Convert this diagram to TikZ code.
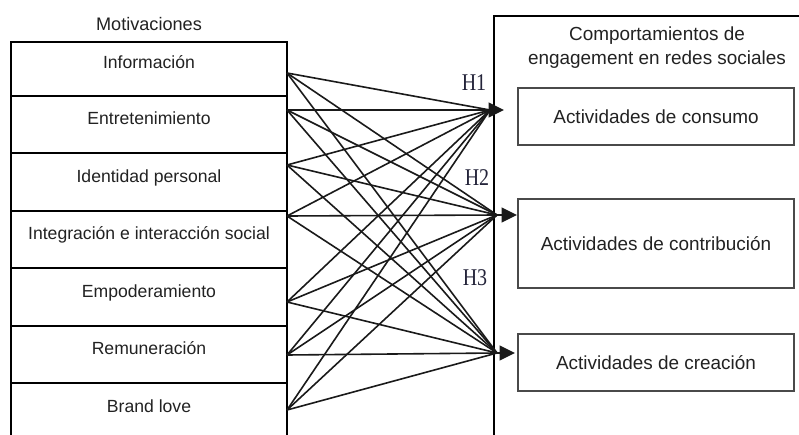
\documentclass[tikz,border=0pt]{standalone}
\usepackage{fontspec}
\setmainfont{Liberation Sans}
\newfontfamily\hypfont{Liberation Serif}
\usetikzlibrary{arrows.meta}
\definecolor{ink}{HTML}{1A1A1A}
\definecolor{txt}{HTML}{222222}
\definecolor{hyp}{HTML}{24243A}
\definecolor{thin}{HTML}{4A4A4A}
\begin{document}
\begin{tikzpicture}[x=0.75pt,y=-0.75pt,
  motbox/.style={draw=black, line width=1.5pt, minimum width=207pt,
    minimum height=#1, inner sep=0pt, text=txt,
    font=\fontsize{13.2}{15}\selectfont, text height=8pt, text depth=8pt},
  actbox/.style={draw=thin, line width=1pt, minimum width=207pt,
    minimum height=#1, inner sep=0pt, text=txt,
    font=\fontsize{14.2}{17}\selectfont},
  link/.style={draw=ink, line width=1.2pt},
  head/.style={draw=ink, line width=1.2pt,
    -{Triangle[length=11.5pt,width=11pt]}},
  hlabel/.style={text=hyp, font=\hypfont\fontsize{15}{17}\selectfont}]
\useasboundingbox (0,0) rectangle (799,435);
\clip (0,0) rectangle (799,435);
\fill[white] (0,0) rectangle (799,435);

% motivations column
\node[text=txt, font=\fontsize{13.6}{16}\selectfont] (mtitle) at (149,24) {Motivaciones};
\node[motbox=40.5pt] (m1) at (149,69) {Información};
\node[motbox=42.75pt] (m2) at (149,124.5) {Entretenimiento};
\node[motbox=43.5pt] (m3) at (149,182) {Identidad personal};
\node[motbox=42.75pt] (m4) at (149,239.5) {Integración e interacción social};
\node[motbox=43.5pt] (m5) at (149,297) {Empoderamiento};
\node[motbox=42.75pt] (m6) at (149,354.5) {Remuneración};
\node[motbox=43.5pt] (m7) at (149,412) {Brand love};

% engagement behaviours container
\node[draw=black, line width=1.5pt, minimum width=247.5pt, minimum height=337.5pt,
  anchor=north west, inner sep=0pt] (beh) at (493,15) {};
\node[text=txt, align=center, font=\fontsize{14.2}{18}\selectfont] (btitle) at (657,48)
  {Comportamientos de\\engagement en redes sociales};
\node[actbox=42.75pt] (a1) at (656,116.5) {Actividades de consumo};
\node[actbox=66.75pt] (a2) at (656,243.5) {Actividades de contribución};
\node[actbox=42.75pt] (a3) at (656,362.5) {Actividades de creación};

% start points on the motivations column
\coordinate (s1) at (287,73);
\coordinate (s2) at (287,110);
\coordinate (s3) at (287,165);
\coordinate (s4) at (287,216);
\coordinate (s5) at (287,302);
\coordinate (s6) at (287,355);
\coordinate (s7) at (287,410);

% meeting points of the links
\coordinate (c1) at (490,110);
\coordinate (c2) at (497,215);
\coordinate (c3) at (497,353);
% arrow bases and tips
\coordinate (b1) at (482,110);
\coordinate (b2) at (492,215);
\coordinate (b3) at (490,353);
\coordinate (t1) at (504,110);
\coordinate (t2) at (517,215);
\coordinate (t3) at (515,353);

\foreach \s in {1,...,7}
  \foreach \c in {1,2,3}
    \draw[link] (s\s) -- (c\c);

\draw[head] (b1) -- (t1);
\draw[head] (b2) -- (t2);
\draw[head] (b3) -- (t3);

% hypothesis labels
\node[hlabel] (h1) at (474,83) {\scalebox{1}[1.2]{H1}};
\node[hlabel] (h2) at (477,178) {\scalebox{1}[1.2]{H2}};
\node[hlabel] (h3) at (475,278) {\scalebox{1}[1.2]{H3}};
\end{tikzpicture}
\end{document}
